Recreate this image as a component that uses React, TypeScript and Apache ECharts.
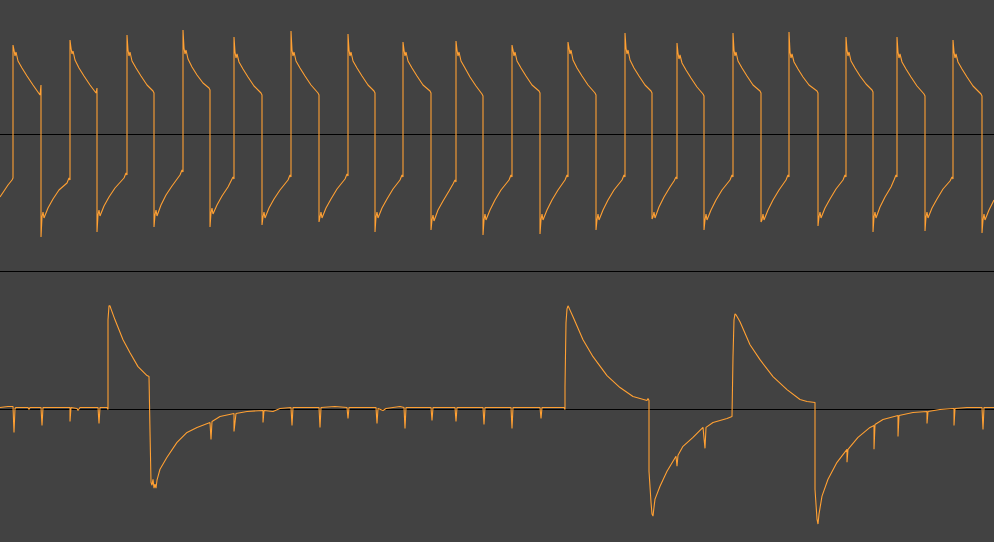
import React, { useEffect, useRef } from "react";
import * as echarts from "echarts";

// Sample positions (x) and amplitudes (y), channel 1 (top)
const topWave: [number, number][] = [
  [0, -0.63], [4, -0.57], [8, -0.51], [12, -0.46], [13, -0.44],
  [13, 0.89], [14, 0.84], [15, 0.78], [16, 0.82], [18, 0.73], [22, 0.66], [27, 0.58], [33, 0.49], [40, 0.39], [41, 0.49], [41, 0.37], [41, -1.03], [42, -0.83], [43, -0.78], [44, -0.84], [48, -0.74], [53, -0.65], [59, -0.56], [67, -0.49], [69, -0.44], [70, -0.46],
  [70, 0.94], [71, 0.86], [72, 0.8], [73, 0.83], [75, 0.74], [79, 0.66], [84, 0.58], [90, 0.49], [96, 0.41], [97, 0.46], [97, 0.39], [97, -0.98], [98, -0.81], [99, -0.76], [100, -0.82], [104, -0.72], [109, -0.63], [115, -0.54], [124, -0.44], [126, -0.39], [127, -0.41],
  [127, 0.99], [128, 0.84], [129, 0.78], [130, 0.82], [132, 0.73], [136, 0.66], [141, 0.58], [147, 0.49], [153, 0.43], [154, 0.41], [154, -0.93], [155, -0.81], [156, -0.76], [157, -0.82], [161, -0.71], [166, -0.61], [172, -0.52], [180, -0.41], [182, -0.36], [183, -0.38],
  [183, 1.04], [184, 0.86], [185, 0.8], [186, 0.84], [188, 0.75], [192, 0.67], [197, 0.59], [203, 0.51], [209, 0.46], [210, 0.44], [210, -0.93], [211, -0.79], [212, -0.74], [213, -0.8], [217, -0.71], [222, -0.62], [228, -0.53], [231, -0.47], [233, -0.43], [234, -0.45],
  [234, 0.97], [235, 0.82], [236, 0.76], [237, 0.8], [239, 0.72], [243, 0.65], [248, 0.57], [254, 0.48], [261, 0.41], [262, 0.39], [262, -0.91], [263, -0.83], [264, -0.78], [265, -0.84], [269, -0.74], [274, -0.65], [280, -0.56], [288, -0.46], [290, -0.41], [291, -0.43],
  [291, 1.03], [292, 0.84], [293, 0.78], [294, 0.82], [296, 0.73], [300, 0.66], [305, 0.58], [311, 0.49], [318, 0.41], [319, 0.39], [319, -0.88], [320, -0.83], [321, -0.78], [322, -0.84], [326, -0.74], [331, -0.65], [337, -0.55], [345, -0.45], [347, -0.4], [348, -0.42],
  [348, 1.0], [349, 0.84], [350, 0.78], [351, 0.82], [353, 0.73], [357, 0.66], [362, 0.58], [368, 0.49], [374, 0.43], [375, 0.41], [375, -0.98], [376, -0.83], [377, -0.78], [378, -0.84], [382, -0.74], [387, -0.65], [393, -0.55], [400, -0.46], [402, -0.41], [403, -0.43],
  [403, 0.92], [404, 0.84], [405, 0.78], [406, 0.82], [408, 0.73], [412, 0.66], [417, 0.58], [423, 0.49], [430, 0.43], [431, 0.41], [431, -0.96], [432, -0.86], [433, -0.81], [434, -0.87], [438, -0.76], [443, -0.67], [449, -0.57], [453, -0.5], [455, -0.46], [456, -0.48],
  [456, 0.93], [457, 0.84], [458, 0.78], [459, 0.82], [461, 0.73], [465, 0.66], [470, 0.57], [476, 0.48], [482, 0.4], [483, 0.38], [483, -1.01], [484, -0.86], [485, -0.8], [486, -0.86], [490, -0.76], [495, -0.66], [501, -0.56], [509, -0.46], [511, -0.41], [512, -0.43],
  [512, 0.89], [513, 0.84], [514, 0.78], [515, 0.82], [517, 0.73], [521, 0.66], [526, 0.58], [532, 0.49], [539, 0.43], [540, 0.41], [540, -1.0], [541, -0.86], [542, -0.8], [543, -0.86], [547, -0.76], [552, -0.66], [558, -0.56], [565, -0.46], [567, -0.41], [568, -0.43],
  [568, 0.92], [569, 0.86], [570, 0.8], [571, 0.84], [573, 0.74], [577, 0.66], [582, 0.58], [588, 0.49], [595, 0.41], [596, 0.39], [596, -0.96], [597, -0.86], [598, -0.8], [599, -0.86], [603, -0.76], [608, -0.66], [614, -0.56], [622, -0.46], [624, -0.41], [625, -0.43],
  [625, 1.01], [626, 0.86], [627, 0.8], [628, 0.84], [630, 0.74], [634, 0.66], [639, 0.58], [645, 0.49], [651, 0.43], [652, 0.41], [652, -0.85], [653, -0.83], [654, -0.78], [655, -0.84], [659, -0.73], [664, -0.63], [670, -0.53], [674, -0.47], [676, -0.43], [677, -0.45],
  [677, 0.91], [678, 0.81], [679, 0.75], [680, 0.79], [682, 0.71], [686, 0.64], [691, 0.56], [697, 0.47], [703, 0.4], [704, 0.38], [704, -0.96], [705, -0.86], [706, -0.8], [707, -0.86], [711, -0.76], [716, -0.66], [722, -0.56], [730, -0.46], [732, -0.41], [733, -0.43],
  [733, 1.01], [734, 0.84], [735, 0.78], [736, 0.82], [738, 0.73], [742, 0.66], [747, 0.58], [753, 0.49], [760, 0.43], [761, 0.41], [761, -0.88], [762, -0.86], [763, -0.8], [764, -0.86], [768, -0.76], [773, -0.66], [779, -0.56], [786, -0.46], [788, -0.41], [789, -0.43],
  [789, 1.02], [790, 0.82], [791, 0.76], [792, 0.8], [794, 0.72], [798, 0.65], [803, 0.57], [809, 0.49], [817, 0.43], [818, 0.41], [818, -0.92], [819, -0.83], [820, -0.78], [821, -0.84], [825, -0.74], [830, -0.65], [836, -0.55], [843, -0.46], [845, -0.41], [846, -0.43],
  [846, 0.97], [847, 0.84], [848, 0.78], [849, 0.82], [851, 0.73], [855, 0.66], [860, 0.58], [866, 0.5], [872, 0.44], [873, 0.42], [873, -0.98], [874, -0.83], [875, -0.78], [876, -0.84], [880, -0.73], [885, -0.63], [891, -0.53], [894, -0.46], [896, -0.41], [897, -0.43],
  [897, 0.97], [898, 0.82], [899, 0.76], [900, 0.8], [902, 0.72], [906, 0.65], [911, 0.57], [917, 0.48], [924, 0.4], [925, 0.38], [925, -0.97], [926, -0.83], [927, -0.78], [928, -0.84], [932, -0.74], [937, -0.65], [943, -0.55], [950, -0.47], [952, -0.43], [953, -0.45],
  [953, 0.94], [954, 0.82], [955, 0.76], [956, 0.8], [958, 0.72], [962, 0.65], [967, 0.57], [973, 0.48], [981, 0.4], [982, 0.38], [982, -0.99], [983, -0.86], [984, -0.8], [985, -0.86], [989, -0.76], [994, -0.66],
];

// Channel 2 (bottom)
const bottomWave: [number, number][] = [
  [0, 0.02], [8, 0.03], [13, 0.03], [14, -0.23], [15, 0.01], [16, 0.02], [28, 0.02], [29, 0.0], [30, 0.02], [41, 0.02], [42, -0.16], [43, 0.02], [60, 0.02], [70, 0.02], [70, -0.12], [71, 0.02], [77, 0.01], [78, -0.01], [80, 0.02], [98, 0.02], [99, -0.14], [100, 0.02], [107, 0.02],
  [108, 0.0], [108, 0.9], [109, 1.04], [110, 1.04], [111, 1.01], [115, 0.9], [123, 0.7], [130, 0.57], [138, 0.43], [144, 0.37], [147, 0.34], [149, 0.33],
  [150, -0.22], [151, -0.73], [152, -0.76], [153, -0.7], [154, -0.79], [155, -0.75], [156, -0.79], [157, -0.71], [160, -0.6], [167, -0.48], [177, -0.33], [187, -0.23], [197, -0.18], [210, -0.13], [211, -0.3], [212, -0.12], [220, -0.07], [234, -0.04], [234, -0.22], [236, -0.04], [247, -0.02], [263, -0.01], [263, -0.13], [264, -0.01], [273, -0.02], [280, 0.01],
  [291, 0.02], [292, -0.16], [293, 0.02], [305, 0.02], [319, 0.02], [320, -0.18], [321, 0.02], [335, 0.03], [347, 0.02], [348, -0.09], [349, 0.02], [365, 0.02], [376, 0.02], [377, -0.14], [378, 0.01], [383, -0.01], [386, 0.01], [400, 0.03], [404, 0.02], [405, -0.19], [406, 0.02], [420, 0.02], [431, 0.02], [432, -0.11], [433, 0.02], [445, 0.02], [455, 0.02], [456, -0.12], [457, 0.02], [470, 0.02], [483, 0.02], [484, -0.15], [485, 0.02], [500, 0.02], [511, 0.02], [512, -0.19], [513, 0.02], [525, 0.02], [540, 0.02], [541, -0.09], [542, 0.02], [555, 0.02], [564, 0.02],
  [565, 0.0], [565, 0.23], [566, 0.87], [567, 1.01], [568, 1.04], [569, 1.02], [573, 0.93], [583, 0.7], [593, 0.53], [607, 0.34], [620, 0.22], [633, 0.13], [647, 0.09], [648, 0.11], [649, 0.09],
  [649, -0.62], [651, -0.93], [652, -1.05], [653, -1.07], [654, -0.98], [655, -0.9], [660, -0.77], [667, -0.62], [676, -0.47], [677, -0.57], [678, -0.46], [683, -0.37], [693, -0.28], [703, -0.18], [705, -0.39], [706, -0.18], [713, -0.13], [727, -0.09], [732, -0.07],
  [733, 0.53], [734, 0.9], [735, 0.96], [736, 0.95], [740, 0.88], [750, 0.65], [760, 0.5], [773, 0.33], [787, 0.2], [800, 0.1], [807, 0.08], [815, 0.07],
  [815, -0.8], [817, -1.1], [818, -1.15], [819, -1.05], [822, -0.87], [828, -0.7], [837, -0.53], [847, -0.4], [847, -0.53], [848, -0.4], [858, -0.28], [870, -0.18], [874, -0.16], [874, -0.4], [875, -0.15], [883, -0.1], [898, -0.06], [898, -0.27], [899, -0.06], [913, -0.03], [927, -0.02], [927, -0.14], [928, -0.02], [940, 0.0], [954, 0.01], [954, -0.16], [955, 0.01], [967, 0.02], [982, 0.02], [983, -0.2], [984, 0.02], [994, 0.02],
];

const xMin = 0;
const xMax = 994;

const WAVE_COLOR = "#ffa033";
const BG = "#424242";

export default function App() {
  const ref = useRef<HTMLDivElement>(null);

  useEffect(() => {
    if (!ref.current) return;
    const chart = echarts.init(ref.current, undefined, { renderer: "svg" });
    const hiddenY = {
      type: "value" as const,
      axisLine: { show: false },
      axisTick: { show: false },
      axisLabel: { show: false },
      splitLine: { show: false },
    };
    const centerX = {
      type: "value" as const,
      min: xMin,
      max: xMax,
      axisLine: { show: true, onZero: true, lineStyle: { color: "#000", width: 1 } },
      axisTick: { show: false },
      axisLabel: { show: false },
      splitLine: { show: false },
    };
    chart.setOption({
      animation: false,
      backgroundColor: BG,
      grid: [
        { left: 0, right: 0, top: 0, height: 268 },
        { left: 0, right: 0, top: 271, height: 271 },
      ],
      xAxis: [
        { ...centerX, gridIndex: 0 },
        { ...centerX, gridIndex: 1 },
        {
          ...centerX,
          gridIndex: 1,
          position: "top",
          axisLine: { show: true, onZero: false, lineStyle: { color: "#000", width: 1 } },
        },
      ],
      yAxis: [
        { ...hiddenY, gridIndex: 0, min: -1.34, max: 1.34 },
        { ...hiddenY, gridIndex: 1, min: -1.33, max: 1.39 },
      ],
      series: [
        {
          type: "line",
          xAxisIndex: 0,
          yAxisIndex: 0,
          data: topWave,
          showSymbol: false,
          symbol: "none",
          lineStyle: { color: WAVE_COLOR, width: 1.1 },
          silent: true,
        },
        {
          type: "line",
          xAxisIndex: 1,
          yAxisIndex: 1,
          data: bottomWave,
          showSymbol: false,
          symbol: "none",
          lineStyle: { color: WAVE_COLOR, width: 1.1 },
          silent: true,
        },
      ],
    });
    return () => chart.dispose();
  }, []);

  return (
    <div
      ref={ref}
      style={{ position: "fixed", left: 0, top: 0, width: 994, height: 542, background: BG }}
    />
  );
}
